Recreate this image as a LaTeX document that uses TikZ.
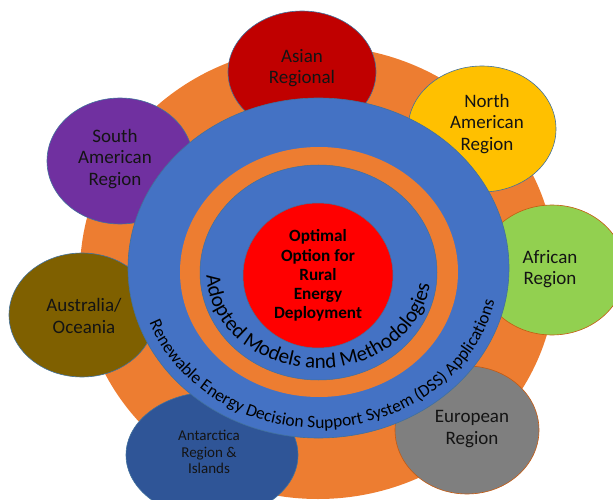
\documentclass[tikz,border=0pt]{standalone}
\usepackage{fontspec}
\setmainfont{Carlito}
\usetikzlibrary{shapes.geometric,decorations.text}

\definecolor{ringorange}{HTML}{ED7D31}
\definecolor{ringblue}{HTML}{4472C4}
\definecolor{coreRed}{HTML}{FF0000}
\definecolor{asiaC}{HTML}{C00000}
\definecolor{northAmC}{HTML}{FFC000}
\definecolor{africaC}{HTML}{92D050}
\definecolor{europeC}{HTML}{7F7F7F}
\definecolor{antarcticC}{HTML}{2F5597}
\definecolor{oceaniaC}{HTML}{7F6000}
\definecolor{southAmC}{HTML}{7030A0}
\definecolor{edgeBlue}{HTML}{41719C}
\definecolor{edgeBrown}{HTML}{C55A11}

\tikzset{
  disc/.style={ellipse, inner sep=0pt, outer sep=0pt},
  region/.style={disc, draw=edgeBlue, line width=0.6pt},
  regiontext/.style={align=center, text=black!92, font=\fontsize{19}{21.5}\selectfont},
  smalltext/.style={align=center, text=black!92, font=\fontsize{15}{16.3}\selectfont},
  coretext/.style={align=center, text=black, font=\bfseries\fontsize{17.2}{19.1}\selectfont},
}

\begin{document}
\begin{tikzpicture}[x=1pt,y=1pt]
  \useasboundingbox (0,0) rectangle (613,499);
  \begin{scope}
  \clip (0,0) rectangle (613,499);

  % outer orange disc
  \node[disc, fill=ringorange, minimum width=476, minimum height=453] (outer) at (318,226.5) {};

  % regional discs around the rim
  \node[region, fill=asiaC, minimum width=148, minimum height=122] (asia) at (302,427) {};
  \node[region, fill=northAmC, minimum width=148, minimum height=126] (northam) at (482,370) {};
  \node[region, fill=africaC, draw=edgeBrown, minimum width=146, minimum height=130] (africa) at (552,229) {};
  \node[region, fill=europeC, draw=edgeBrown, minimum width=144, minimum height=128] (europe) at (467,69) {};
  \node[region, fill=antarcticC, minimum width=172, minimum height=126] (antarctic) at (212,44) {};
  \node[region, fill=oceaniaC, minimum width=146, minimum height=124] (oceania) at (82,184) {};
  \node[region, fill=southAmC, minimum width=146, minimum height=126] (southam) at (120,338) {};

  % concentric rings
  \node[disc, fill=ringblue, draw=edgeBlue, line width=0.6pt, minimum width=381, minimum height=340] (dss) at (318.5,231) {};
  \node[disc, fill=ringorange, minimum width=278, minimum height=250] (midring) at (319,227) {};
  \node[disc, fill=ringblue, draw=edgeBlue, line width=0.5pt, minimum width=237, minimum height=215] (models) at (318.5,226.5) {};
  \node[disc, fill=coreRed, draw=edgeBlue, line width=0.5pt, minimum width=150, minimum height=145] (core) at (318,223.5) {};
  \end{scope}

  % labels
  \node[coretext] (coreLabel) at (core.center) {Optimal\\Option for\\Rural\\Energy\\Deployment};
  \node[regiontext] (asiaLabel) at (302,431) {Asian\\Regional};
  \node[regiontext] (northamLabel) at (487,375) {North\\American\\Region};
  \node[regiontext] (africaLabel) at (550,230) {African\\Region};
  \node[regiontext] (europeLabel) at (472,70) {European\\Region};
  \node[smalltext] (antarcticLabel) at (209,47) {Antarctica\\Region \&\\Islands};
  \node[regiontext] (oceaniaLabel) at (84,183) {Australia/\\Oceania};
  \node[regiontext] (southamLabel) at (115,340) {South\\American\\Region};

  % curved ring captions
  \path[decorate, decoration={text along path, text align=center,
      text={|\fontsize{21}{21}\selectfont|Adopted Models and Methodologies}}]
    (318.5,226.5) ++(179:112 and 96) arc[start angle=179, end angle=356, x radius=112, y radius=96];
  \path[decorate, decoration={text along path, text align=center,
      text={|\fontsize{17.5}{17.5}\selectfont|Renewable Energy Decision Support System (DSS) Applications}}]
    (318.5,231) ++(198:180 and 160) arc[start angle=198, end angle=350, x radius=180, y radius=160];
\end{tikzpicture}
\end{document}
